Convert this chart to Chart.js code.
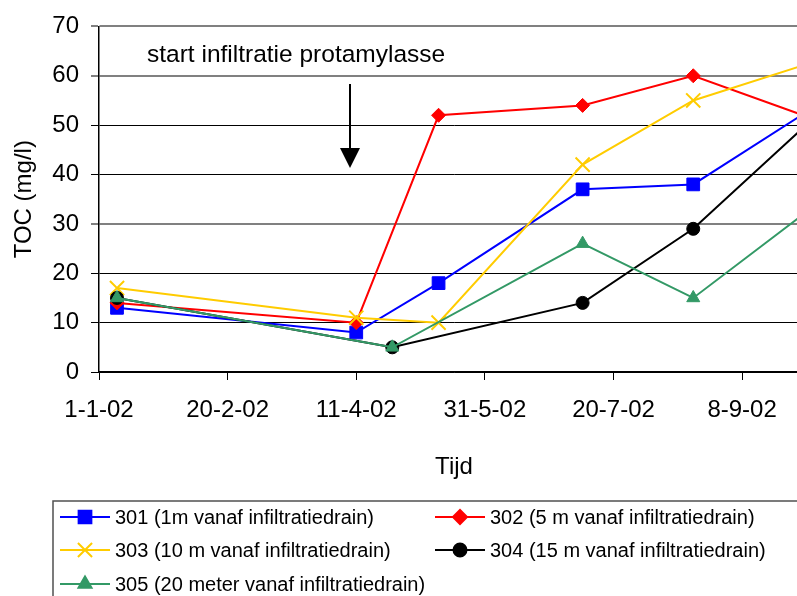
<!DOCTYPE html>
<html>
<head>
<meta charset="utf-8">
<script src="https://cdn.jsdelivr.net/npm/chart.js@4/dist/chart.umd.min.js"></script>
<style>
  html, body { margin: 0; padding: 0; background: #fff; overflow: hidden; width: 797px; height: 596px; }
  canvas { display: block; }
</style>
</head>
<body>
<canvas id="myChart" width="830" height="596"></canvas>
<script>
var myChart;

// sample dates (d-m-yyyy) and TOC values (mg/l), null = not sampled
var dates = ['8-1-2002', '11-4-2002', '25-4-2002', '13-5-2002', '8-7-2002', '20-8-2002', '7-10-2002'];
var s301 = [13, 8, null, 18, 37, 38, 54];
var s302 = [14, 10, null, 52, 54, 60, 51];
var s303 = [17, 11, null, 10, 42, 55, 63];
var s304 = [15, null, 5, null, 14, 29, 52];
var s305 = [15, null, 5, null, 26, 15, 34];

var seriesNames = [
  '301 (1m vanaf infiltratiedrain)',
  '302 (5 m vanaf infiltratiedrain)',
  '303 (10 m vanaf infiltratiedrain)',
  '304 (15 m vanaf infiltratiedrain)',
  '305 (20 meter vanaf infiltratiedrain)'
];
var xTickDays = [0, 50, 100, 150, 200, 250];
var yTicks = [0, 10, 20, 30, 40, 50, 60, 70];

var FONT = "'Liberation Sans', Arial, sans-serif";

/* days since 1-1-2002 */
function dayOf(str) {
  var p = str.split('-');
  return (Date.UTC(+p[2], +p[1] - 1, +p[0]) - Date.UTC(2002, 0, 1)) / 86400000;
}
function dayLabel(d) {
  var dt = new Date(Date.UTC(2002, 0, 1) + d * 86400000);
  return dt.getUTCDate() + '-' + (dt.getUTCMonth() + 1) + '-' + String(dt.getUTCFullYear()).slice(2);
}
function points(vals) {
  var out = [];
  for (var i = 0; i < vals.length; i++) {
    if (vals[i] !== null) out.push({ x: dayOf(dates[i]), y: vals[i] });
  }
  return out;
}

/*legend + annotation drawn on the canvas*/
var extras = {
  id: 'extras',
  afterDraw: function (chart) {
    var ctx = chart.ctx;
    ctx.save();

    // annotation
    ctx.fillStyle = '#000';
    ctx.font = '24.5px ' + FONT;
    ctx.textBaseline = 'alphabetic';
    ctx.textAlign = 'left';
    ctx.fillText('start infiltratie protamylasse', 147, 62);
    ctx.strokeStyle = '#000';
    ctx.lineWidth = 2;
    ctx.beginPath();
    ctx.moveTo(350, 84);
    ctx.lineTo(350, 150);
    ctx.stroke();
    ctx.beginPath();
    ctx.moveTo(340, 148);
    ctx.lineTo(360, 148);
    ctx.lineTo(350, 168);
    ctx.closePath();
    ctx.fill();

    // legend box
    ctx.strokeStyle = '#505050';
    ctx.lineWidth = 1.5;
    ctx.strokeRect(53, 501, 900, 200);

    var cols = [60, 435];
    var rows = [517, 550, 584];
    ctx.font = '20px ' + FONT;
    ctx.textBaseline = 'middle';
    chart.data.datasets.forEach(function (ds, i) {
      var x = cols[i % 2], y = rows[Math.floor(i / 2)];
      ctx.strokeStyle = ds.borderColor;
      ctx.lineWidth = 2;
      ctx.beginPath();
      ctx.moveTo(x, y);
      ctx.lineTo(x + 50, y);
      ctx.stroke();
      ctx.fillStyle = ds.pointBackgroundColor;
      ctx.strokeStyle = ds.pointBorderColor;
      Chart.helpers.drawPoint(ctx, {
        pointStyle: ds.pointStyle, radius: ds.pointRadius, rotation: 0, borderWidth: ds.pointBorderWidth
      }, x + 25, y);
      ctx.fillStyle = '#000';
      ctx.fillText(ds.label, x + 55, y + 1);
    });
    ctx.restore();
  }
};

var whiteBg = {
  id: 'whiteBg',
  beforeDraw: function (chart) {
    var ctx = chart.ctx;
    ctx.save();
    ctx.fillStyle = '#fff';
    ctx.fillRect(0, 0, chart.width, chart.height);
    ctx.restore();
  }
};

function mkSet(i, vals, color, style, radius, fill) {
  return {
    label: seriesNames[i],
    data: points(vals),
    borderColor: color,
    backgroundColor: color,
    borderWidth: 2,
    pointStyle: style,
    pointRadius: radius,
    pointHoverRadius: radius,
    pointBackgroundColor: fill,
    pointBorderColor: color,
    pointBorderWidth: style == 'crossRot' ? 2 : 1,
    spanGaps: true,
    tension: 0,
    order: -i
  };
}

function createChart() {
  var ctx = document.getElementById('myChart');
  if (myChart) {
    myChart.destroy();
  }

  myChart = new Chart(ctx, {
    type: 'line',
    data: {
      datasets: [
        mkSet(0, s301, '#0000FF', 'rect', 9, '#0000FF'),
        mkSet(1, s302, '#FF0000', 'rectRot', 7, '#FF0000'),
        mkSet(2, s303, '#FFCC00', 'crossRot', 10, '#FFCC00'),
        mkSet(3, s304, '#000000', 'circle', 6.5, '#000000'),
        mkSet(4, s305, '#339966', 'triangle', 7.5, '#339966')
      ]
    },
    options: {
      responsive: false,
      animation: false,
      devicePixelRatio: 1,
      layout: { padding: { left: 0, right: 21, top: 25, bottom: 114 } },
      plugins: {
        legend: { display: false },
        tooltip: { enabled: false }
      },
      scales: {
        x: {
          type: 'linear',
          min: 0,
          max: 276,
          afterBuildTicks: function (s) {
            s.ticks = xTickDays.map(function (v) { return { value: v }; });
          },
          afterFit: function (s) { s.height = 110; },
          ticks: {
            callback: function (v) { return dayLabel(v); },
            font: { family: FONT, size: 24 },
            color: '#000',
            padding: 16,
            maxRotation: 0,
            autoSkip: false
          },
          grid: { drawOnChartArea: false, drawTicks: true, tickLength: 8, color: '#000' },
          border: { color: '#000', width: 1.5 },
          title: {
            display: true,
            text: 'Tijd',
            font: { family: FONT, size: 24 },
            color: '#000',
            padding: { top: 0, bottom: 0 }
          }
        },
        y: {
          min: 0,
          max: 70,
          afterBuildTicks: function (s) {
            s.ticks = yTicks.map(function (v) { return { value: v }; });
          },
          afterFit: function (s) { s.width = 99; },
          ticks: {
            font: { family: FONT, size: 24 },
            color: '#000',
            padding: 12
          },
          grid: {
            color: function (c) { return (c.tick && (c.tick.value == 70 || c.tick.value == 60 || c.tick.value == 30)) ? '#808080' : '#000'; },
            lineWidth: function (c) { return (c.tick && (c.tick.value == 70 || c.tick.value == 60 || c.tick.value == 30)) ? 2 : 1; },
            tickLength: 8
          },
          border: { color: '#000', width: 1.5 },
          title: {
            display: true,
            text: 'TOC (mg/l)',
            font: { family: FONT, size: 24 },
            color: '#000',
            padding: { top: 10, bottom: 0 }
          }
        }
      }
    },
    plugins: [whiteBg, extras]
  });
}

window.onload = createChart();
</script>
</body>
</html>
